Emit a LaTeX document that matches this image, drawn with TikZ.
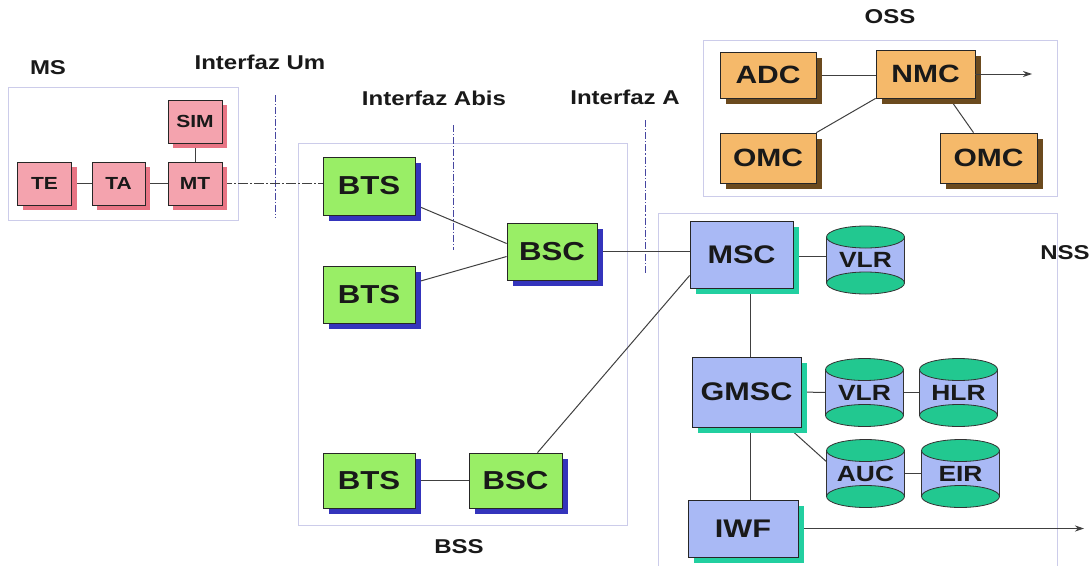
\documentclass[tikz,border=0pt]{standalone}
\usepackage{fontspec}
\setmainfont{Liberation Sans}[FakeStretch=1.2]
\usetikzlibrary{shadows,calc,arrows.meta,backgrounds}
\definecolor{pinkfill}{HTML}{F4A3AE}
\definecolor{pinkshadow}{HTML}{E87484}
\definecolor{greenfill}{HTML}{99EE66}
\definecolor{greenshadow}{HTML}{3434BC}
\definecolor{orangefill}{HTML}{F5B96A}
\definecolor{orangeshadow}{HTML}{6B4A1E}
\definecolor{bluefill}{HTML}{A9B9F5}
\definecolor{tealshadow}{HTML}{22CFA0}
\definecolor{cylend}{HTML}{22C890}
\definecolor{frameline}{HTML}{CCCCEA}
\definecolor{ifline}{HTML}{4646A0}
\newcommand\fsz[1]{\fontsize{#1}{#1}\selectfont\bfseries}
\newcommand\dbnode[4]{%
  \fill[bluefill] ({#2-39},{#3-23}) rectangle ({#2+39},{#3+23});
  \filldraw[fill=cylend,draw=black!80,line width=0.8pt] (#2,{#3+23}) ellipse [x radius=39pt,y radius=11pt];
  \draw[black!80,line width=0.8pt] ({#2-39},{#3-23}) -- ({#2-39},{#3+23}) ({#2+39},{#3-23}) -- ({#2+39},{#3+23});
  \filldraw[fill=cylend,draw=black!80,line width=0.8pt] (#2,{#3-23}) ellipse [x radius=39pt,y radius=11pt];
  \node[cylnode] (#1) at (#2,#3) {#4};}
\begin{document}
\begin{tikzpicture}[x=1pt,y=-1pt,
  basebox/.style={draw=black!85,line width=0.8pt,inner sep=0pt,text=black!90},
  pinkbox/.style={basebox,fill=pinkfill,minimum width=54pt,minimum height=43pt,font=\fsz{17.5},
    drop shadow={shadow xshift=5pt,shadow yshift=-5pt,fill=pinkshadow,opacity=1}},
  greenbox/.style={basebox,fill=greenfill,minimum width=92pt,minimum height=57pt,font=\fsz{26},
    drop shadow={shadow xshift=6pt,shadow yshift=-6pt,fill=greenshadow,opacity=1}},
  orangebox/.style={basebox,fill=orangefill,minimum width=96pt,minimum height=48pt,font=\fsz{25},
    drop shadow={shadow xshift=6pt,shadow yshift=-6pt,fill=orangeshadow,opacity=1}},
  bluebox/.style={basebox,fill=bluefill,minimum width=104pt,minimum height=66pt,font=\fsz{25.5},
    drop shadow={shadow xshift=6pt,shadow yshift=-6pt,fill=tealshadow,opacity=1}},
  cylnode/.style={draw=none,inner sep=0pt,minimum width=78pt,minimum height=68pt,font=\fsz{22},text=black!90},
  frame/.style={draw=frameline,line width=1pt},
  conn/.style={draw=black!75,line width=1pt},
  ifsep/.style={draw=ifline,line width=0.8pt,dash pattern=on 7pt off 2pt on 1.2pt off 2pt},
  lbl/.style={font=\fsz{20},text=black!90,inner sep=0pt}]
\useasboundingbox (0,0) rectangle (1092,565);
% labels
\node[lbl] (lms) at (48,68) {MS};
\node[lbl] (lum) at (260,62) {Interfaz Um};
\node[lbl] (labis) at (434,98) {Interfaz Abis};
\node[lbl] (la) at (625,97) {Interfaz A};
\node[lbl] (loss) at (890,17) {OSS};
\node[lbl] (lnss) at (1065,253) {NSS};
\node[lbl] (lbss) at (459,547) {BSS};
% MS
\node[pinkbox] (TE) at (44.5,183.5) {TE};
\node[pinkbox,minimum width=53pt] (TA) at (118.5,183.5) {TA};
\node[pinkbox] (MT) at (195,183.5) {MT};
\node[pinkbox] (SIM) at (195,121.5) {SIM};
% BSS
\node[greenbox,minimum height=58pt] (BTS1) at (369,186) {BTS};
\node[greenbox] (BTS2) at (369,294.5) {BTS};
\node[greenbox,minimum width=90pt] (BSC1) at (552,251.5) {BSC};
\node[greenbox,minimum height=55pt] (BTS3) at (369,480.5) {BTS};
\node[greenbox,minimum width=93pt,minimum height=55pt] (BSC2) at (515.5,480.5) {BSC};
% OSS
\node[orangebox,minimum height=46pt] (ADC) at (768,75) {ADC};
\node[orangebox,minimum width=99pt] (NMC) at (925.5,74) {NMC};
\node[orangebox,minimum height=50pt] (OMC1) at (768,158) {OMC};
\node[orangebox,minimum width=97pt,minimum height=50pt] (OMC2) at (988.5,158) {OMC};
% NSS
\node[bluebox,minimum width=103pt,minimum height=67pt] (MSC) at (741.5,254.5) {MSC};
\node[bluebox,minimum width=109pt,minimum height=70pt] (GMSC) at (746.5,392) {GMSC};
\node[bluebox,minimum width=110pt,minimum height=57pt] (IWF) at (743,528.5) {IWF};
\dbnode{VLRa}{865.5}{260}{VLR}
\dbnode{VLRb}{864.5}{392.5}{VLR}
\dbnode{HLR}{958.5}{392.5}{HLR}
\dbnode{AUC}{865.5}{473.5}{AUC}
\dbnode{EIR}{960.5}{473.5}{EIR}
\coordinate (nmcout) at (1032,74);
\coordinate (iwfout) at (1084,528.5);
\begin{scope}[on background layer]
  \draw[frame] (8,87) rectangle (238,220);
  \draw[frame] (298,143) rectangle (627,525);
  \draw[frame] (703,40) rectangle (1057,196);
  \draw[frame] (658,566) -- (658,213) -- (1057,213) -- (1057,566);
  \draw[ifsep] (275,95) -- (275,218);
  \draw[ifsep] (453,125) -- (453,250);
  \draw[ifsep] (645,120) -- (645,275);
  \draw[conn] (TE) -- (TA);
  \draw[conn] (TA) -- (MT);
  \draw[conn] (SIM) -- (MT);
  \draw[conn,dash pattern=on 10pt off 2pt on 2pt off 2pt] (MT.east) -- (BTS1.west |- MT.east);
  \draw[conn] ($(BTS1.east)+(0,19)$) -- ($(BSC1.west)+(0,-8)$);
  \draw[conn] ($(BTS2.east)+(0,-12)$) -- ($(BSC1.west)+(0,5)$);
  \draw[conn,line width=0.7pt] (BSC1.east) -- (MSC.west |- BSC1.east);
  \draw[conn] ($(BSC2.north)+(22,0)$) -- ($(MSC.west)+(0,21)$);
  \draw[conn,line width=0.7pt] (BTS3) -- (BSC2);
  \draw[conn] (ADC.east) -- (NMC.west |- ADC.east);
  \draw[conn] (NMC.south west) -- (OMC1.north east);
  \draw[conn] ($(NMC.south)+(24,0)$) -- ($(OMC2.north)+(-15,0)$);
  \draw[conn] ($(MSC.east)+(0,1.5)$) -- ($(VLRa.west)+(0,-4)$);
  \draw[conn] ($(MSC.south)+(8.5,0)$) -- ($(GMSC.north)+(3.5,0)$);
  \draw[conn] (GMSC.east) -- (VLRb.west);
  \draw[conn] (VLRb.east) -- (HLR.west);
  \draw[conn] ($(GMSC.south east)+(-13,0)$) -- ($(AUC.west)+(0,-12)$);
  \draw[conn] ($(GMSC.south)+(3.5,0)$) -- ($(IWF.north)+(7,0)$);
  \draw[conn] (AUC.east) -- (EIR.west);
\end{scope}
\draw[conn,-{Stealth[length=9pt,width=6pt]}] (NMC.east) -- (nmcout);
\draw[conn,-{Stealth[length=9pt,width=6pt]}] ($(IWF.east)+(6,0)$) -- (iwfout);
\end{tikzpicture}
\end{document}
